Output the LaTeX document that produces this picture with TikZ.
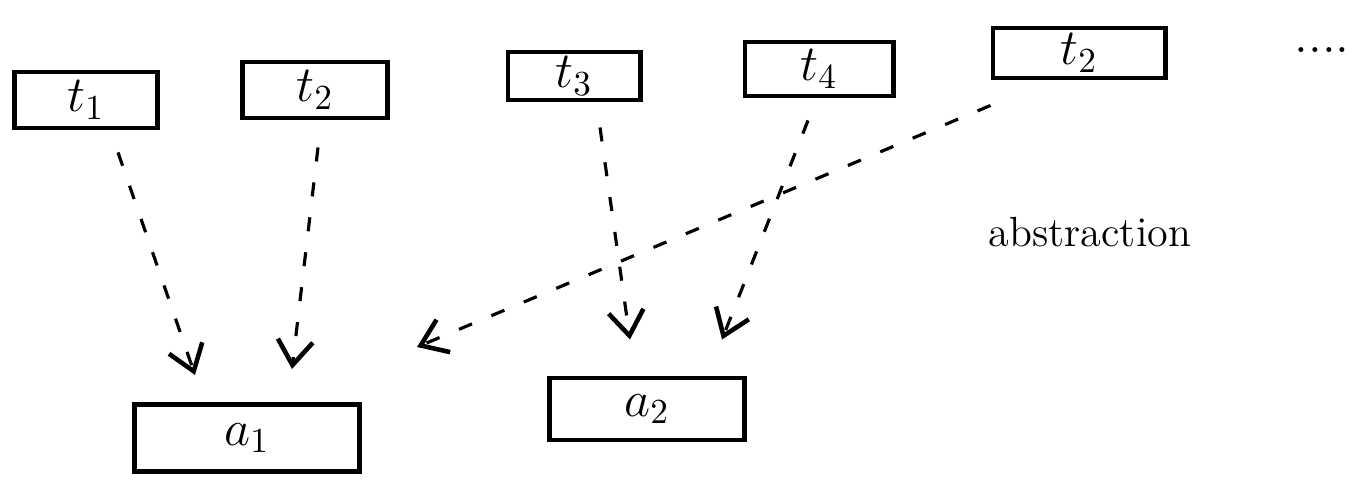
\documentclass[tikz,border=0pt]{standalone}
\usetikzlibrary{arrows.meta,calc}
\begin{document}
\begin{tikzpicture}[x=0.01cm,y=-0.01cm,
  tbox/.style={draw, rectangle, line width=1.4pt, inner sep=0pt, font=\Large},
  arr/.style={line width=0.9pt, dash pattern=on 4pt off 6pt,
    -{Straight Barb[length=7pt,width=10pt,line width=1.3pt]}},
  lbl/.style={font=\large, inner sep=0pt}]
\useasboundingbox (0,0) rectangle (1364,480);
% top row
\node[tbox, minimum width=1.43cm, minimum height=0.56cm] (t1) at (86,100) {$t_1$};
\node[tbox, minimum width=1.45cm, minimum height=0.56cm] (t2) at (315,90) {$t_2$};
\node[tbox, minimum width=1.32cm, minimum height=0.48cm] (t3) at (574,76) {$t_3$};
\node[tbox, minimum width=1.48cm, minimum height=0.54cm] (t4) at (819,69) {$t_4$};
\node[tbox, minimum width=1.72cm, minimum height=0.50cm] (t5) at (1079,53) {$t_2$};
\node[lbl, font=\Large] (dots) at (1322,50) {....};
% bottom row
\node[tbox, minimum width=2.25cm, minimum height=0.67cm] (a1) at (247,438) {$a_1$};
\node[tbox, minimum width=1.95cm, minimum height=0.62cm] (a2) at (647,409) {$a_2$};
% label
\node[lbl] (abs) at (1090,232) {abstraction};
% connectors
\draw[arr] ($(t1.south)+(32,22)$) -- ($(a1.north)+(-52,-27)$);
\draw[arr] ($(t2.south)+(3,27)$) -- ($(a1.north)+(45,-33)$);
\draw[arr] ($(t3.south)+(26,25)$) -- ($(a2.north)+(-17,-36)$);
\draw[arr] ($(t4.south)+(-11,22)$) -- ($(a2.north)+(75,-36)$);
\draw[arr] ($(t5.south west)+(0,25)$) -- ($(a1.north east)+(55,-55)$);
\end{tikzpicture}
\end{document}
